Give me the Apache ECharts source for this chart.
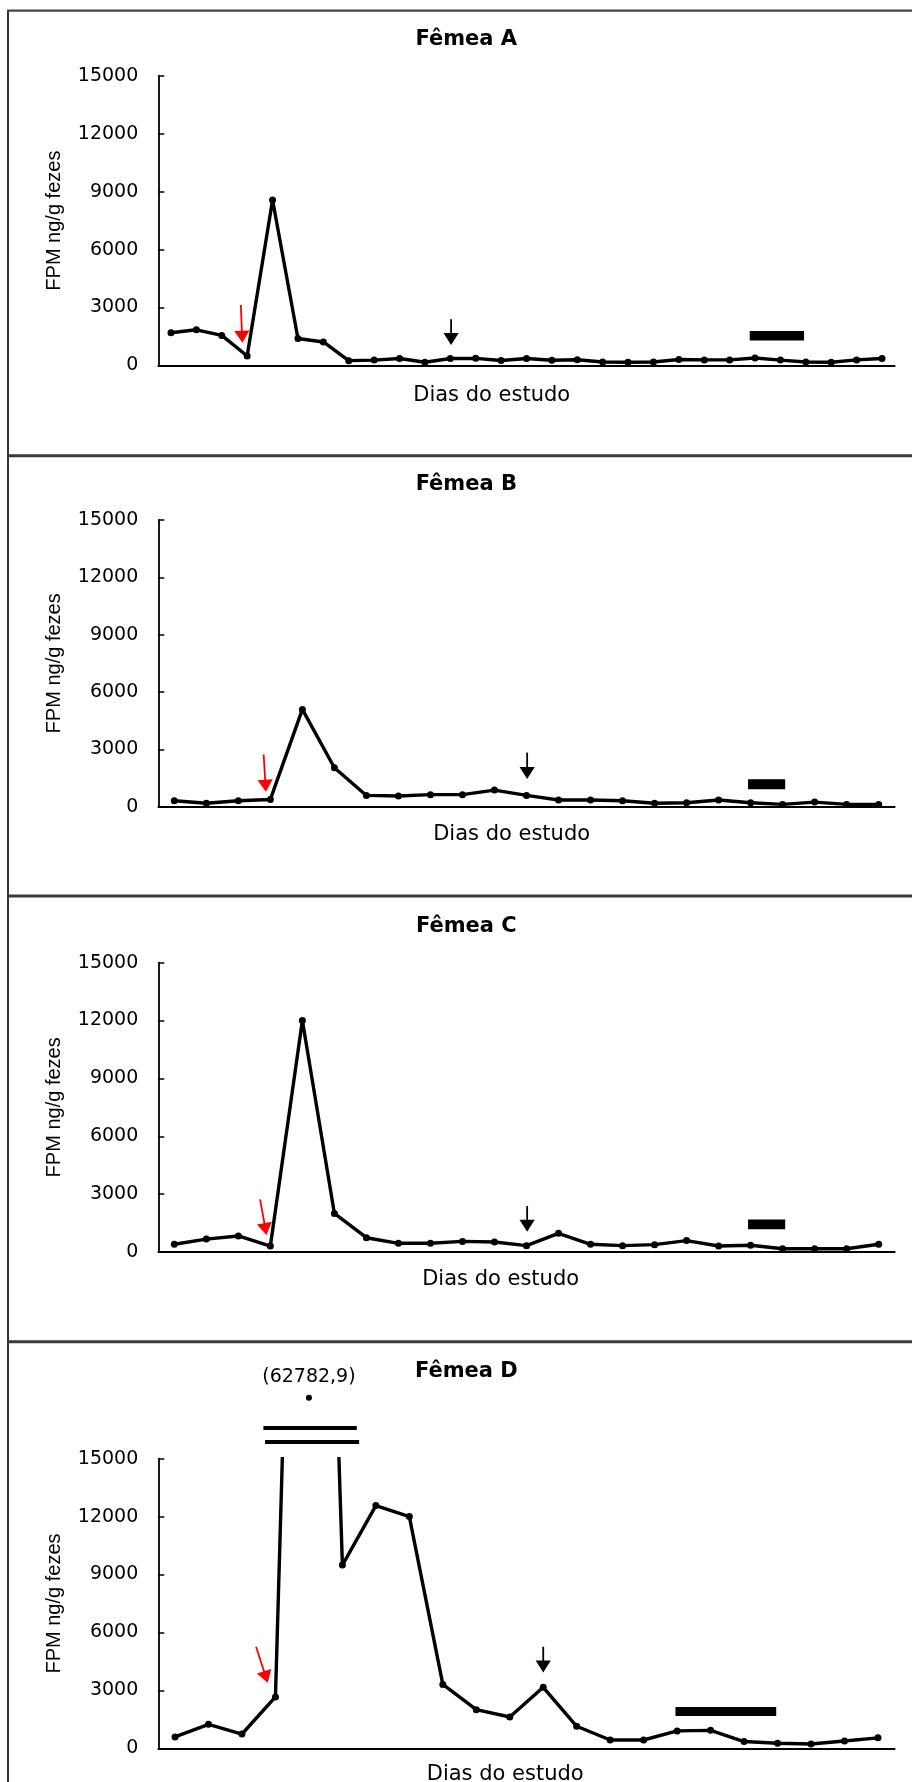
<!DOCTYPE html>
<html><head><meta charset="utf-8">
<script src="https://cdn.jsdelivr.net/npm/echarts@6/dist/echarts.min.js"></script>
<style>html,body{margin:0;padding:0;background:#fff}#c{width:912px;height:1782px}</style>
</head><body><div id="c"></div>
<script>
// ---- categories (study days, not labelled on the axis) ----
const diasA = ['1','2','3','4','5','6','7','8','9','10','11','12','13','14','15','16','17','18','19','20','21','22','23','24','25','26','27','28','29'];
const diasB = ['1','2','3','4','5','6','7','8','9','10','11','12','13','14','15','16','17','18','19','20','21','22','23'];
const diasC = ['1','2','3','4','5','6','7','8','9','10','11','12','13','14','15','16','17','18','19','20','21','22','23'];
const diasD = ['1','2','3','4','5','6','7','8','9','10','11','12','13','14','15','16','17','18','19','20','21','22'];

// ---- FPM ng/g fezes ----
const fpmA = [1690,1840,1550,480,8570,1390,1210,240,270,350,160,350,360,250,350,260,290,170,160,170,300,280,280,380,270,170,160,280,350];
const fpmB = [310,180,310,380,5090,2040,590,560,630,630,870,590,350,350,310,180,210,350,210,120,240,120,120];
const fpmC = [400,670,830,310,12000,2000,740,450,450,550,520,330,970,400,330,380,590,310,350,170,170,170,400];
const fpmD = [590,1240,740,2660,62782.9,9490,12570,12000,3310,2000,1620,3160,1140,430,430,900,930,350,260,220,380,540];

// ---- y axis ticks ----
const yTicks = [0,3000,6000,9000,12000,15000];

// ---- annotations in data units: arrows [x0,y0,x1,y1] (x in category widths), bars [x0,x1,yLow,yHigh] ----
const redArrowA = [[3.25,3130,3.31,1170]];
const blackArrowA = [[11.53,2385,11.53,1050]];
const barA = [[23.29,25.43,1280,1780]];
const redArrowB = [[3.29,2740,3.36,780]];
const blackArrowB = [[11.52,2830,11.52,1450]];
const barB = [[18.42,19.58,910,1430]];
const redArrowC = [[3.18,2730,3.38,880]];
const blackArrowC = [[11.52,2380,11.52,1050]];
const barC = [[18.42,19.58,1180,1690]];
const redArrowD = [[2.92,5260,3.27,3400]];
const blackArrowD = [[11.50,5260,11.50,3920]];
const barD = [[15.45,18.46,1670,2140]];
// axis-break marks and off-scale point (Fêmea D)
const breakD = [[3.14,5.93,16590],[3.19,6.0,15865]];
const peakD = [[4.5,18160,19230,fpmD[4]]];

const titles = ['Fêmea A','Fêmea B','Fêmea C','Fêmea D'];
const xName = 'Dias do estudo';
const yName = 'FPM ng/g fezes';

const panels = [
  {cats:diasA, vals:fpmA, red:redArrowA, black:blackArrowA, bar:barA},
  {cats:diasB, vals:fpmB, red:redArrowB, black:blackArrowB, bar:barB},
  {cats:diasC, vals:fpmC, red:redArrowC, black:blackArrowC, bar:barC},
  {cats:diasD, vals:fpmD, red:redArrowD, black:blackArrowD, bar:barD}
];
const layout = [
  {top:76,    height:289.3, titleY:39.8,   nameX:491.7, nameY:395.3},
  {top:520,   height:286.7, titleY:484.3,  nameX:511.6, nameY:835},
  {top:962.7, height:289.3, titleY:926.3,  nameX:500.6, nameY:1280},
  {top:1458.7,height:289.6, titleY:1371.7, nameX:505.2, nameY:1775}
];
const GL = 158.3, GW = 736.4;

function arrowItem(color){
  return function(params, api){
    const p0 = api.coord([api.value(0), api.value(1)]);
    const p1 = api.coord([api.value(2), api.value(3)]);
    const dx = p1[0]-p0[0], dy = p1[1]-p0[1], L = Math.hypot(dx,dy);
    const ux = dx/L, uy = dy/L, hl = 12, hw = 7.6;
    const bx = p1[0]-ux*hl, by = p1[1]-uy*hl;
    return {type:'group', children:[
      {type:'line', shape:{x1:p0[0],y1:p0[1],x2:bx+ux*1,y2:by+uy*1}, style:{stroke:color,lineWidth:1.8}},
      {type:'polygon', shape:{points:[[p1[0],p1[1]],[bx-uy*hw,by+ux*hw],[bx+uy*hw,by-ux*hw]]}, style:{fill:color}}
    ]};
  };
}
function barItem(params, api){
  const a = api.coord([api.value(0), api.value(3)]);
  const b = api.coord([api.value(1), api.value(2)]);
  return {type:'rect', shape:{x:a[0], y:a[1], width:b[0]-a[0], height:b[1]-a[1]}, style:{fill:'#000'}};
}
function breakItem(params, api){
  const a = api.coord([api.value(0), api.value(2)]);
  const b = api.coord([api.value(1), api.value(2)]);
  return {type:'line', shape:{x1:a[0],y1:a[1],x2:b[0],y2:b[1]}, style:{stroke:'#000',lineWidth:4}};
}
function peakItem(params, api){
  const p = api.coord([api.value(0), api.value(1)]);
  const t = api.coord([api.value(0), api.value(2)]);
  const txt = '(' + String(api.value(3)).replace('.', ',') + ')';
  return {type:'group', children:[
    {type:'circle', shape:{cx:p[0], cy:p[1], r:3}, style:{fill:'#000'}},
    {type:'text', x:t[0], y:t[1], style:{text:txt, fill:'#000', font:'19px "DejaVu Sans"', textAlign:'center', textVerticalAlign:'middle'}}
  ]};
}

const grid = [], xAxis = [], yAxis = [], series = [], graphic = [];
panels.forEach((p, i) => {
  const L = layout[i];
  grid.push({left:GL, top:L.top, width:GW, height:L.height, containLabel:false, outerBoundsMode:'none'});
  xAxis.push({type:'category', gridIndex:i, data:p.cats, boundaryGap:true,
    axisLine:{lineStyle:{color:'#000', width:1.8}},
    axisTick:{inside:true, length:6, interval:0, lineStyle:{color:'#000', width:1.5}},
    axisLabel:{show:false}, splitLine:{show:false}});
  xAxis.push({type:'value', gridIndex:i, min:0, max:p.cats.length, show:false, splitLine:{show:false}});
  yAxis.push({type:'value', gridIndex:i, min:yTicks[0], max:yTicks[yTicks.length-1], interval:yTicks[1]-yTicks[0],
    name:yName, nameLocation:'middle', nameGap:94,
    nameTextStyle:{fontFamily:'Liberation Sans', fontSize:20, color:'#000'},
    axisLine:{show:true, lineStyle:{color:'#000', width:1.8}},
    axisTick:{show:true, inside:true, length:6, lineStyle:{color:'#000', width:1.5}},
    axisLabel:{color:'#000', fontFamily:'DejaVu Sans', fontSize:19, margin:20, formatter:v => String(v)},
    splitLine:{show:false}});
  series.push({type:'line', xAxisIndex:2*i, yAxisIndex:i, data:p.vals, clip:true,
    symbol:'circle', symbolSize:7, showSymbol:true,
    lineStyle:{color:'#000', width:3.4}, itemStyle:{color:'#000'}, animation:false, z:3});
  series.push({type:'custom', xAxisIndex:2*i+1, yAxisIndex:i, data:p.red, renderItem:arrowItem('#ff0000'), animation:false, z:4});
  series.push({type:'custom', xAxisIndex:2*i+1, yAxisIndex:i, data:p.black, renderItem:arrowItem('#000'), animation:false, z:4});
  series.push({type:'custom', xAxisIndex:2*i+1, yAxisIndex:i, data:p.bar, renderItem:barItem, animation:false, z:4});
  graphic.push({type:'text', x:466.3, y:L.titleY, style:{text:titles[i], fill:'#000', font:'bold 21px "DejaVu Sans"', textAlign:'center', textVerticalAlign:'middle'}});
  graphic.push({type:'text', x:L.nameX, y:L.nameY, style:{text:xName, fill:'#000', font:'21px "DejaVu Sans"', textAlign:'center', textVerticalAlign:'middle'}});
});
series.push({type:'custom', xAxisIndex:7, yAxisIndex:3, data:breakD, renderItem:breakItem, animation:false, clip:false, z:4});
series.push({type:'custom', xAxisIndex:7, yAxisIndex:3, data:peakD, renderItem:peakItem, animation:false, clip:false, z:4});

// frame
graphic.push({type:'line', shape:{x1:8,y1:10.5,x2:8,y2:1782}, style:{stroke:'#333', lineWidth:2}});
graphic.push({type:'line', shape:{x1:7,y1:10.7,x2:912,y2:10.7}, style:{stroke:'#444', lineWidth:2.2}});
[455.7, 896, 1341.7].forEach(y => {
  graphic.push({type:'line', shape:{x1:7,y1:y,x2:912,y2:y}, style:{stroke:'#3a3a3a', lineWidth:3}});
});

const chart = echarts.init(document.getElementById('c'));
chart.setOption({animation:false, backgroundColor:'#fff', grid, xAxis, yAxis, series, graphic});
</script></body></html>
